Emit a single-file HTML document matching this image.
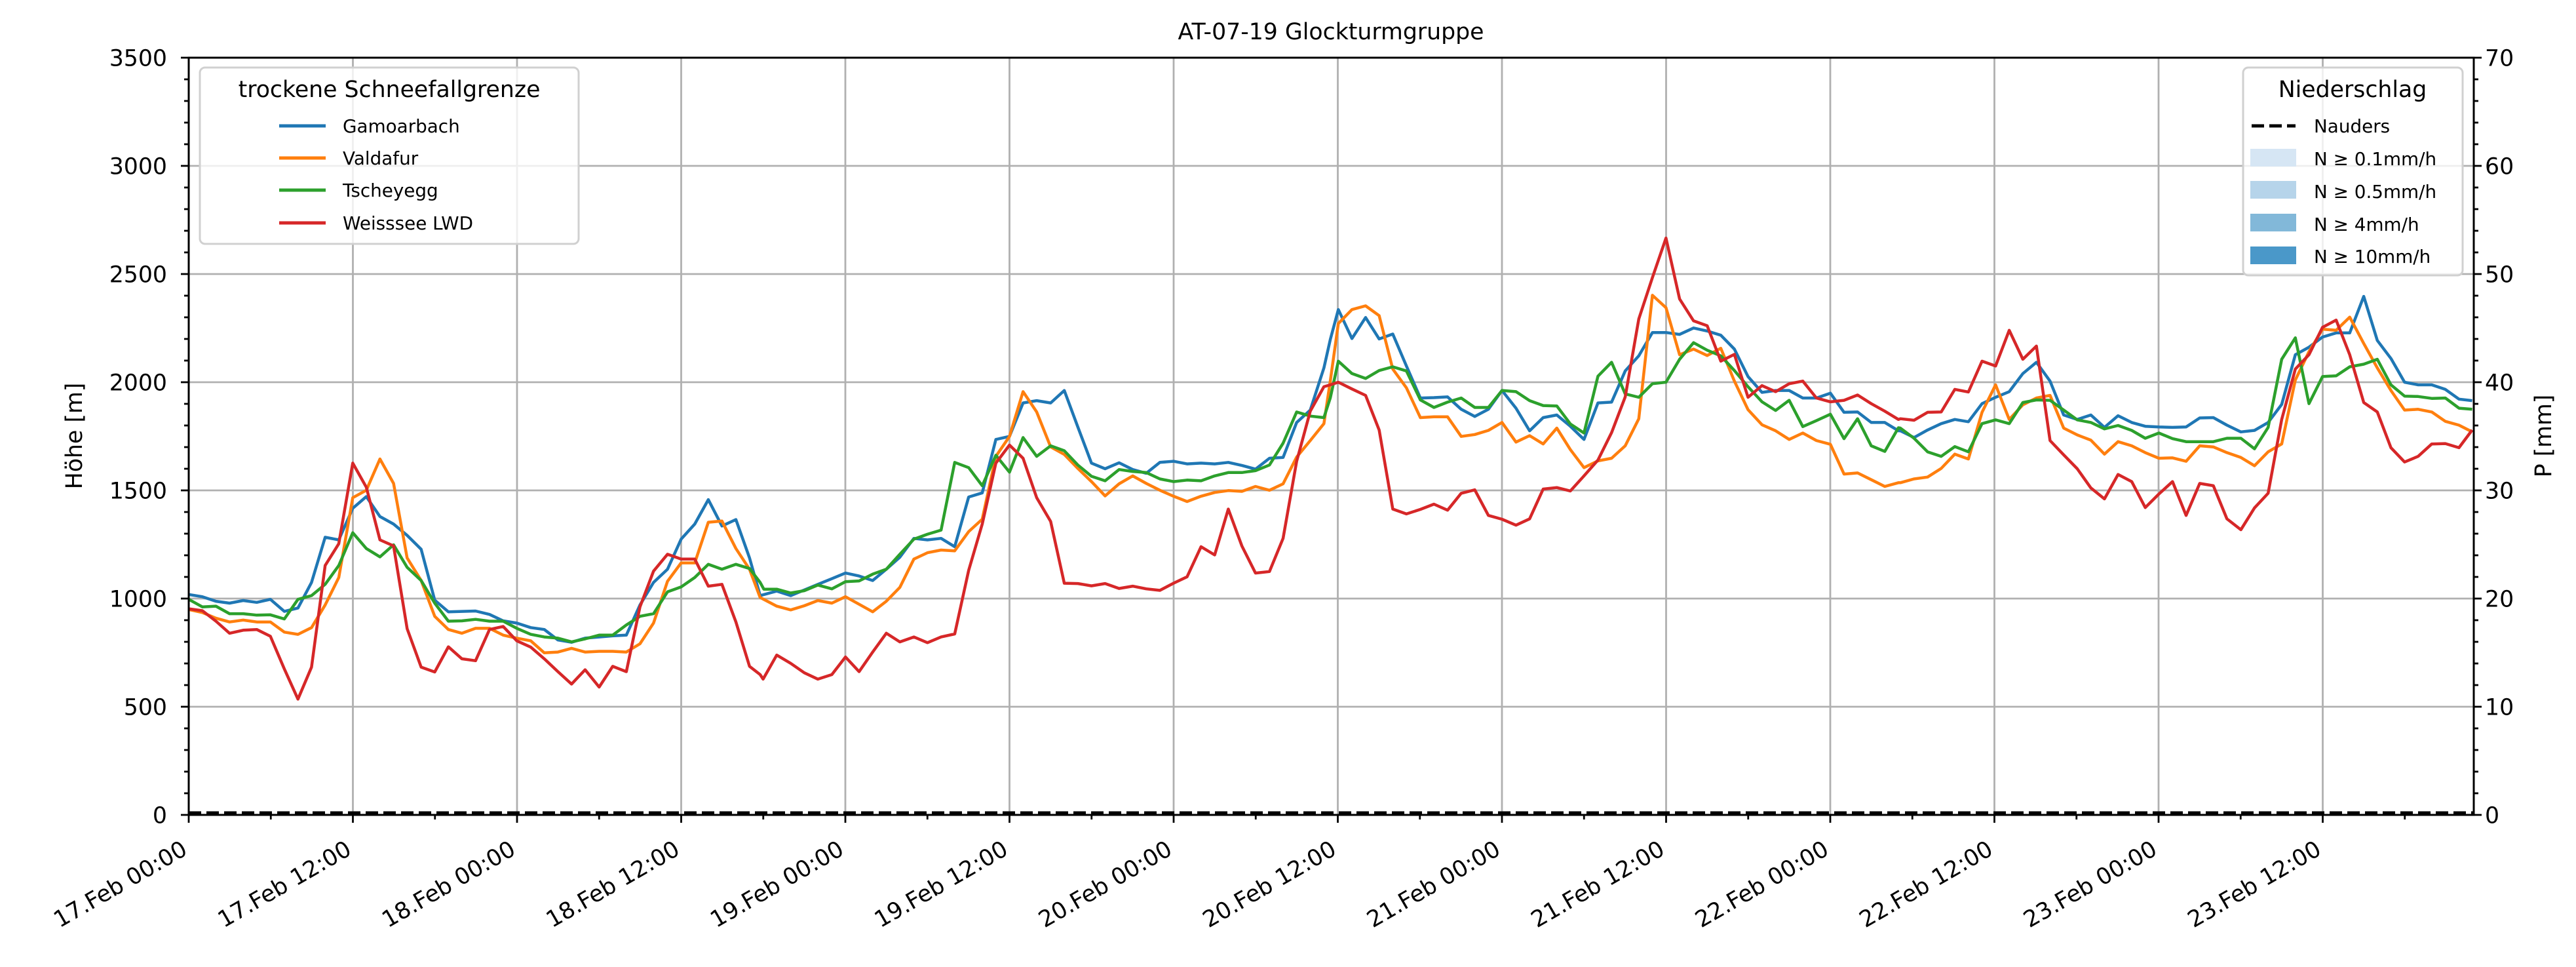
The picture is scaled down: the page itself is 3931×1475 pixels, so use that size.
<!DOCTYPE html>
<html><head><meta charset="utf-8"><style>
html,body{margin:0;padding:0;background:#fff;}
svg{display:block;font-family:"DejaVu Sans","Liberation Sans",sans-serif;}
</style></head><body>
<svg id="s" width="3931" height="1475" viewBox="0 0 3931 1475" xmlns="http://www.w3.org/2000/svg">
<rect width="3931" height="1475" fill="#fff"/>
<g id="grid" stroke="#b0b0b0" stroke-width="2.8"></g>
<g id="series" fill="none" stroke-width="4.5" stroke-linejoin="round"></g>
<line x1="288" y1="1240" x2="3775" y2="1240" stroke="#000" stroke-width="5" stroke-dasharray="19,8"/>
<rect x="288" y="88" width="3487" height="1155" fill="none" stroke="#000" stroke-width="3"/>
<g id="ticks" stroke="#000" stroke-width="2.8"></g>
<g id="labels" font-size="34.7" fill="#000"></g>
<text x="2031" y="60" font-size="34.7" text-anchor="middle">AT-07-19 Glockturmgruppe</text>
<text transform="translate(125,665) rotate(-90)" font-size="34.7" text-anchor="middle">Höhe [m]</text>
<text transform="translate(3893,665) rotate(-90)" font-size="34.7" text-anchor="middle">P [mm]</text>
<!-- left legend -->
<rect x="305" y="103" width="578" height="269" rx="8" fill="#fff" fill-opacity="0.8" stroke="#d0d0d0" stroke-width="3"/>
<text x="594" y="148" font-size="34.7" text-anchor="middle">trockene Schneefallgrenze</text>
<g stroke-width="5">
<line x1="426" y1="192" x2="497" y2="192" stroke="#1f77b4"/>
<line x1="426" y1="241" x2="497" y2="241" stroke="#ff7f0e"/>
<line x1="426" y1="290" x2="497" y2="290" stroke="#2ca02c"/>
<line x1="426" y1="340" x2="497" y2="340" stroke="#d62728"/>
</g>
<g font-size="27.8">
<text x="523" y="202">Gamoarbach</text>
<text x="523" y="251">Valdafur</text>
<text x="523" y="300">Tscheyegg</text>
<text x="523" y="350">Weisssee LWD</text>
</g>
<!-- right legend -->
<rect x="3423" y="103" width="335" height="317" rx="8" fill="#fff" fill-opacity="0.8" stroke="#d0d0d0" stroke-width="3"/>
<text x="3590" y="148" font-size="34.7" text-anchor="middle">Niederschlag</text>
<line x1="3436" y1="192" x2="3503" y2="192" stroke="#000" stroke-width="5" stroke-dasharray="19,8"/>
<rect x="3434" y="227" width="70" height="27" fill="#d6e6f4"/>
<rect x="3434" y="276" width="70" height="27" fill="#b6d4ea"/>
<rect x="3434" y="326" width="70" height="27" fill="#82b8d9"/>
<rect x="3434" y="376" width="70" height="27" fill="#4a98c9"/>
<g font-size="27.8">
<text x="3531" y="202">Nauders</text>
<text x="3531" y="252">N ≥ 0.1mm/h</text>
<text x="3531" y="302">N ≥ 0.5mm/h</text>
<text x="3531" y="352">N ≥ 4mm/h</text>
<text x="3531" y="401">N ≥ 10mm/h</text>
</g>
</svg>
<script>
var NS="http://www.w3.org/2000/svg";
function el(p,t,a,txt){var e=document.createElementNS(NS,t);for(var k in a)e.setAttribute(k,a[k]);if(txt!==undefined)e.textContent=txt;document.getElementById(p).appendChild(e);return e;}
var L=288,R=3775,T=88,B=1243,PH=20.875;
// grid
for(var i=1;i<14;i++){var x=L+i*12*PH;el("grid","line",{x1:x,y1:T,x2:x,y2:B});}
for(var v=500;v<3500;v+=500){var y=B-v*0.33;el("grid","line",{x1:L,y1:y,x2:R,y2:y});}
// ticks
for(var i=0;i<=27;i++){var x=L+i*6*PH;if(x>R+1)break;var len=(i%2==0)?12:7;el("ticks","line",{x1:x,y1:B,x2:x,y2:B+len});}
for(var v=0;v<=3500;v+=100){var y=B-v*0.33;var mj=(v%500==0);el("ticks","line",{x1:L,y1:y,x2:L-(mj?12:7),y2:y});el("ticks","line",{x1:R,y1:y,x2:R+(mj?12:7),y2:y});
 if(mj){el("labels","text",{x:255,y:y+12.5,"text-anchor":"end"},String(v));el("labels","text",{x:3792,y:y+12.5},String(v/50));}}
var days=["17","17","18","18","19","19","20","20","21","21","22","22","23","23"];
for(var i=0;i<14;i++){var x=L+i*12*PH;var lab=days[i]+".Feb "+(i%2?"12:00":"00:00");
 el("labels","text",{transform:"translate("+x+",1302) rotate(-30)","text-anchor":"end"},lab);}
// data chunks: [x0, {series:[zx,zy...]}]
var C=[
[288,{
b:[0,1057,37,1063,74,1075,111,1080,148,1073,185,1078,222,1070,260,1102,297,1093,334,1025,371,905,408,912,446,828,483,797,520,850,557,870,594,900,632,937,669,1072,706,1103,743,1102,780,1101,818,1110,855,1127,892,1133,930,1145,967,1150,1004,1178,1041,1184,1078,1173,1116,1170,1153,1167,1190,1165,1227,1085,1264,1025,1302,990,1339,910,1376,870,1413,805,1450,875,1488,858,1525,960],
o:[0,1097,37,1105,74,1120,111,1130,148,1125,185,1130,222,1130,260,1157,297,1163,334,1145,371,1085,408,1012,446,800,483,780,520,697,557,762,594,960,632,1020,669,1115,706,1150,743,1160,780,1147,818,1147,855,1165,892,1173,930,1180,967,1212,1004,1210,1041,1200,1078,1210,1116,1208,1153,1208,1190,1210,1227,1188,1264,1133,1302,1022,1339,973,1376,973,1413,865,1450,862,1488,935,1525,990],
g:[0,1070,37,1090,74,1088,111,1108,148,1108,185,1112,222,1111,260,1122,297,1070,334,1060,371,1030,408,980,446,893,483,935,520,957,557,925,594,985,632,1020,669,1080,706,1128,743,1127,780,1123,818,1128,855,1128,892,1147,930,1163,967,1170,1004,1173,1041,1183,1078,1175,1116,1165,1153,1165,1190,1138,1227,1115,1264,1108,1302,1050,1339,1037,1376,1012,1413,977,1450,990,1488,977,1525,988],
r:[0,1095,37,1100,74,1128,111,1160,148,1152,185,1150,222,1168,260,1255,297,1335,334,1250,371,980,408,922,446,708,483,772,520,912,557,928,594,1148,632,1250,669,1263,706,1196,743,1228,780,1233,818,1150,855,1142,892,1180,930,1197,967,1228,1004,1262,1041,1295,1078,1257,1116,1303,1153,1248,1190,1262,1227,1090,1264,995,1302,950,1339,963,1376,963,1413,1035,1450,1030,1488,1130,1525,1248]}],
[1160,{
b:[0,1060,45,1048,83,1060,120,1045,157,1030,195,1015,232,1000,269,1008,306,1020,343,990,380,958,418,908,455,912,492,908,529,930,567,798,604,787,641,645,678,637,715,548,752,542,790,548,827,515,864,612,901,708,938,723,976,707,1013,725,1050,735,1087,706,1124,703,1161,710,1199,708,1236,710,1273,706,1310,714,1347,724,1385,695,1422,693,1459,600,1496,567,1533,455],
o:[0,1065,45,1088,83,1098,120,1087,157,1073,195,1080,232,1063,269,1083,306,1103,343,1075,380,1038,418,963,455,946,492,939,529,941,567,890,604,857,641,690,678,637,715,518,752,572,790,665,827,685,864,722,901,757,938,795,976,763,1013,742,1050,762,1087,780,1124,796,1161,810,1199,796,1236,786,1273,781,1310,783,1347,770,1385,780,1422,763,1459,692,1496,648,1533,603],
g:[0,1025,10,1043,45,1043,83,1053,120,1047,157,1032,195,1042,232,1023,269,1021,306,1003,343,990,380,950,418,910,455,897,492,886,529,706,567,720,604,768,641,687,678,732,715,640,752,690,790,662,827,675,864,713,901,743,938,755,976,725,1013,730,1050,733,1087,750,1124,757,1161,753,1199,755,1236,742,1273,733,1310,733,1347,728,1385,713,1422,655,1459,572,1496,583,1533,587],
r:[0,1270,8,1282,45,1218,83,1240,120,1265,157,1282,195,1270,232,1223,269,1262,306,1210,343,1160,380,1183,418,1170,455,1185,492,1170,529,1162,567,993,604,870,641,708,678,660,715,695,752,800,790,863,827,1027,864,1028,901,1034,938,1028,976,1041,1013,1035,1050,1042,1087,1046,1124,1027,1161,1010,1199,930,1236,952,1273,830,1310,928,1347,1000,1385,996,1422,908,1459,703,1496,570,1533,505]}],
[2030,{
b:[0,380,22,300,59,377,96,321,133,378,170,365,207,450,245,535,282,534,319,532,356,565,393,584,430,565,467,515,505,562,542,622,579,587,616,580,653,610,690,645,728,548,765,546,802,463,839,423,876,361,913,361,950,366,988,349,1025,357,1062,368,1099,405,1136,478,1174,520,1211,515,1248,515,1285,535,1322,535,1360,522,1397,573,1434,572,1471,600,1508,600,1545,622],
o:[0,490,22,337,59,300,96,290,133,316,170,458,207,508,245,587,282,585,319,585,356,637,393,632,430,621,467,600,505,652,542,635,579,657,616,615,653,672,690,720,728,702,765,695,802,662,839,590,876,262,913,295,950,420,988,405,1025,422,1062,403,1099,490,1136,566,1174,606,1211,622,1248,645,1285,628,1322,648,1360,658,1397,737,1434,734,1471,752,1508,770,1545,760],
g:[0,535,22,437,59,470,96,483,133,462,170,452,207,463,245,540,282,560,319,546,356,535,393,560,430,560,467,515,505,518,542,542,579,555,616,556,653,604,690,628,728,477,765,440,802,524,839,533,876,497,913,493,950,432,988,388,1025,408,1062,423,1099,462,1136,505,1174,545,1211,568,1248,541,1285,611,1322,595,1360,578,1397,643,1434,590,1471,662,1508,677,1545,614],
r:[0,500,22,493,59,511,96,528,133,620,170,830,207,843,245,831,282,817,319,833,356,788,393,779,430,847,467,857,505,873,542,856,579,777,616,773,653,782,690,742,728,700,765,627,802,532,839,325,876,215,913,110,950,272,988,330,1025,343,1062,437,1099,419,1136,533,1174,502,1211,518,1248,497,1285,490,1322,535,1360,545,1397,541,1434,527,1471,550,1508,570,1545,592]}],
[2900,{
b:[0,622,37,640,74,620,111,603,148,592,185,598,222,550,259,533,296,518,333,470,370,440,407,490,444,580,481,592,518,580,555,613,592,582,629,600,666,610,703,612,740,613,777,612,814,588,851,587,888,607,926,625,963,621,1000,600,1037,552,1074,420,1111,400,1148,373,1185,362,1222,362,1260,265,1297,382,1334,430,1371,493,1408,500,1445,500,1482,512,1519,538,1555,542],
o:[0,760,37,750,74,745,111,722,148,684,185,697,222,573,259,500,296,592,333,553,370,535,407,528,444,615,481,633,518,647,555,684,592,651,629,662,666,680,703,695,740,694,777,703,814,662,851,665,888,680,926,693,963,715,1000,678,1037,657,1074,487,1111,412,1148,352,1185,355,1222,320,1260,390,1297,455,1334,515,1371,567,1408,565,1445,572,1482,597,1519,607,1555,625],
g:[0,615,37,642,74,678,111,690,148,664,185,678,222,603,259,593,296,603,333,547,370,540,407,541,444,567,481,593,518,600,555,617,592,608,629,621,666,642,703,628,740,643,777,651,814,651,851,651,888,642,926,642,963,670,1000,613,1037,432,1074,375,1111,550,1148,478,1185,476,1222,452,1260,445,1297,432,1334,500,1371,530,1408,531,1445,536,1482,535,1519,562,1555,565],
r:[0,590,37,594,74,573,111,572,148,512,185,519,222,437,259,450,296,355,333,432,370,397,407,648,444,686,481,723,518,774,555,803,592,738,629,757,666,826,703,790,740,757,777,847,814,762,851,768,888,856,926,885,963,827,1000,788,1037,592,1074,458,1111,420,1148,347,1185,328,1222,420,1260,547,1297,572,1334,667,1371,705,1408,690,1445,657,1482,656,1519,667,1555,620]}]
];
var col={b:"#1f77b4",o:"#ff7f0e",g:"#2ca02c",r:"#d62728"};
["b","o","g","r"].forEach(function(k){
 var pts=[];
 C.forEach(function(c){var a=c[1][k];for(var i=0;i<a.length;i+=2){var X=c[0]+a[i]/1.782,Y=300+a[i+1]/1.742;if(X<L)X=L;if(X>R)X=R;pts.push(X.toFixed(1)+","+Y.toFixed(1));}});
 el("series","polyline",{points:pts.join(" "),stroke:col[k]});
});
</script>
</body></html>
